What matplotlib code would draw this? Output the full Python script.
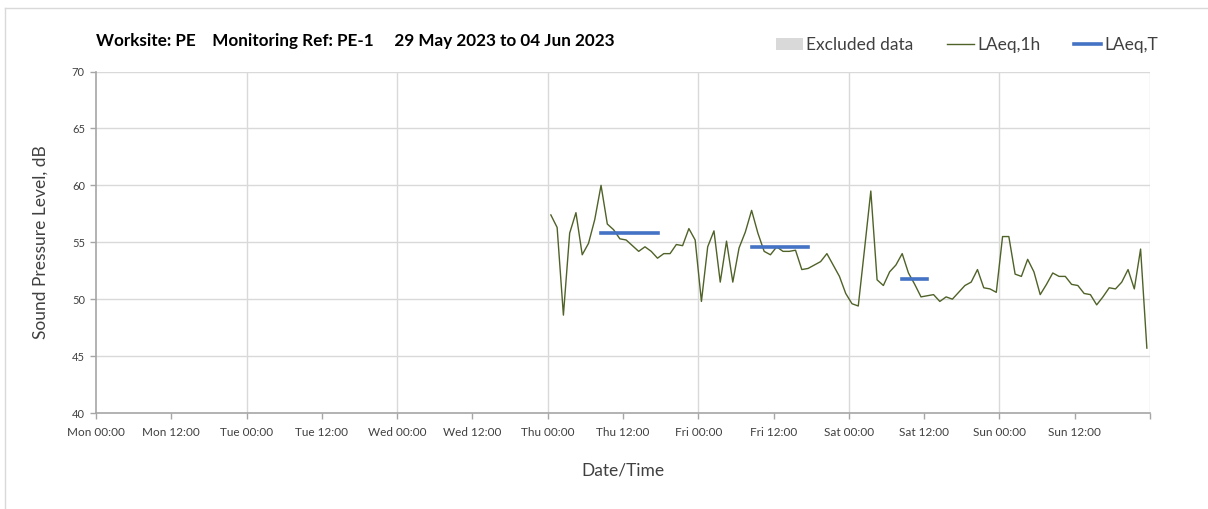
import matplotlib.pyplot as plt
from matplotlib.lines import Line2D
from matplotlib.patches import Patch
import pandas as pd

plt.rcParams['font.family'] = ['Lato', 'DejaVu Sans']

# LAeq,1h values, hourly from Thu 01 Jun 2023 00:30
laeq_1h = [
    57.4, 56.3, 48.6, 55.8, 57.6, 53.9, 54.9, 57.0, 60.0, 56.6,
    56.1, 55.3, 55.2, 54.7, 54.2, 54.6, 54.2, 53.6, 54.0, 54.0,
    54.8, 54.7, 56.2, 55.2, 49.8, 54.6, 56.0, 51.5, 55.1, 51.5,
    54.5, 55.9, 57.8, 55.8, 54.2, 53.9, 54.6, 54.2, 54.2, 54.3,
    52.6, 52.7, 53.0, 53.3, 54.0, 53.0, 52.0, 50.5, 49.6, 49.4,
    54.4, 59.5, 51.7, 51.2, 52.4, 53.0, 54.0, 52.3, 51.3, 50.2,
    50.3, 50.4, 49.8, 50.2, 50.0, 50.6, 51.2, 51.5, 52.6, 51.0,
    50.9, 50.6, 55.5, 55.5, 52.2, 52.0, 53.5, 52.4, 50.4, 51.3,
    52.3, 52.0, 52.0, 51.3, 51.2, 50.5, 50.4, 49.5, 50.2, 51.0,
    50.9, 51.5, 52.6, 50.9, 54.4, 45.7,
]
times_1h = pd.date_range('2023-06-01 00:30', periods=len(laeq_1h), freq='h')

# LAeq,T periods
laeq_t_start = ['2023-06-01 08:30', '2023-06-02 08:30', '2023-06-03 08:30']
laeq_t_end = ['2023-06-01 17:30', '2023-06-02 17:30', '2023-06-03 12:30']
laeq_t = [55.8, 54.6, 51.8]

x_start = pd.Timestamp('2023-05-29 00:00')
x_end = pd.Timestamp('2023-06-05 00:00')

fig = plt.figure(figsize=(12.08, 5.09), dpi=100)
ax = fig.add_axes([96 / 1208, 1 - 413 / 509, (1150 - 96) / 1208, (413 - 71.5) / 509])

green = '#4F6228'
blue = '#4472C4'
grid_c = '#D9D9D9'
axis_c = '#A6A6A6'
text_c = '#404040'

ax.plot(times_1h, laeq_1h, color=green, lw=1.0, zorder=3)
for s, e, v in zip(laeq_t_start, laeq_t_end, laeq_t):
    ax.plot([pd.Timestamp(s), pd.Timestamp(e)], [v, v], color=blue, lw=2.6,
            solid_capstyle='projecting', zorder=4)

ax.set_xlim(x_start, x_end)
ax.set_ylim(40, 70)
ax.set_yticks(range(40, 71, 5))

major = pd.date_range(x_start, x_end, freq='12h')
ax.set_xticks(major)
ax.set_xticklabels([t.strftime('%a %H:%M') for t in major[:-1]] + [''])

# grid: horizontal every 5 dB, vertical at each midnight
for y in range(45, 71, 5):
    ax.axhline(y, color=grid_c, lw=1, zorder=1)
for d in pd.date_range(x_start, x_end, freq='D')[1:]:
    ax.axvline(d, color=grid_c, lw=1, zorder=1)

for side in ['top', 'right']:
    ax.spines[side].set_visible(False)
for side in ['left', 'bottom']:
    ax.spines[side].set_color(axis_c)
    ax.spines[side].set_linewidth(1.2)
ax.tick_params(axis='both', colors=axis_c, length=4, width=1)
ax.tick_params(axis='x', labelsize=8.5, labelcolor=text_c, pad=6)
ax.tick_params(axis='y', labelsize=8, labelcolor=text_c, pad=4)

ax.set_xlabel('Date/Time', fontsize=12.5, color=text_c, labelpad=18)
ax.set_ylabel('Sound Pressure Level, dB', fontsize=12.5, color=text_c, labelpad=17)

fig.text(96 / 1208, 1 - 41 / 509,
         'Worksite: PE    Monitoring Ref: PE-1     29 May 2023 to 04 Jun 2023',
         fontsize=12.3, fontweight='bold', color='black', va='center', ha='left')

handles = [Patch(facecolor='#D9D9D9', edgecolor='none'),
           Line2D([], [], color=green, lw=1.0),
           Line2D([], [], color=blue, lw=2.6)]
fig.legend(handles, ['Excluded data', 'LAeq,1h', 'LAeq,T'], ncol=3,
           loc='center right', bbox_to_anchor=(1170 / 1208, 1 - 45 / 509),
           frameon=False, fontsize=12.5, handlelength=1.55, handleheight=0.7,
           handletextpad=0.17, columnspacing=1.95, labelcolor=text_c,
           borderpad=0.2)

# outer chart-area border (left and top)
fig.add_artist(Line2D([5 / 1208, 5 / 1208], [0, 1 - 8 / 509], color=grid_c, lw=1))
fig.add_artist(Line2D([5 / 1208, 1], [1 - 8 / 509, 1 - 8 / 509], color=grid_c, lw=1))

fig.savefig('out.png', dpi=100)
